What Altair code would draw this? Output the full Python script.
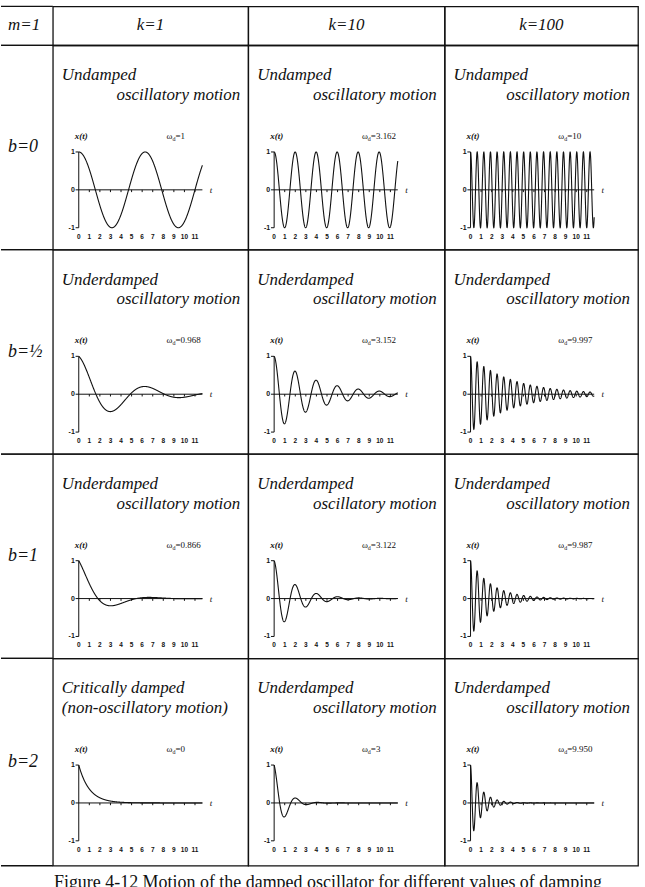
import altair as alt
import pandas as pd

# ---------------- data ----------------
MASS = 1
STIFFNESS = [1, 10, 100]
DAMPING = [0, 0.5, 1, 2]
DAMPING_TEXT = ["0", "½", "1", "2"]
OMEGA_D = [
    [1, 3.162, 10],
    [0.968, 3.152, 9.997],
    [0.866, 3.122, 9.987],
    [0, 3, 9.950],
]
OMEGA_TEXT = [
    ["1", "3.162", "10"],
    ["0.968", "3.152", "9.997"],
    ["0.866", "3.122", "9.987"],
    ["0", "3", "9.950"],
]
REGIME_TOP = [
    ["Undamped", "Undamped", "Undamped"],
    ["Underdamped", "Underdamped", "Underdamped"],
    ["Underdamped", "Underdamped", "Underdamped"],
    ["Critically damped", "Underdamped", "Underdamped"],
]
REGIME_BOTTOM = [
    ["oscillatory motion", "oscillatory motion", "oscillatory motion"],
    ["oscillatory motion", "oscillatory motion", "oscillatory motion"],
    ["oscillatory motion", "oscillatory motion", "oscillatory motion"],
    ["(non-oscillatory motion)", "oscillatory motion", "oscillatory motion"],
]
T_TICKS = list(range(12))
X_TICKS = [1, 0, -1]
T_END = 11.7
CAPTION = "Figure 4-12 Motion of the damped oscillator for different values of damping"

# ---------------- layout / style ----------------
COL_W = [52, 196, 197, 194]
HEAD_H = 39
ROW_H = [205, 205, 205, 208]
ORIGIN_X, PX_PER_T = 26, 10.6
ORIGIN_Y, PX_PER_X = 145, 38
INK = "#111111"
SERIF = "Liberation Serif"
SANS = "Liberation Sans"
ONE = alt.Data(values=[{}])


def label(text, x, y, size=17, align="left", baseline="alphabetic",
          style="italic", weight="normal", font=SERIF):
    return alt.Chart(ONE).mark_text(
        font=font, fontSize=size, fontStyle=style, fontWeight=weight,
        align=align, baseline=baseline, color=INK,
    ).encode(x=alt.value(x), y=alt.value(y), text=alt.value(text))


def plot_cell(r, c):
    w, h = COL_W[c + 1], ROW_H[r]
    b, wd = DAMPING[r], OMEGA_D[r][c]
    xs = alt.Scale(domain=[-ORIGIN_X / PX_PER_T, (w - ORIGIN_X) / PX_PER_T],
                   nice=False, zero=False)
    ys = alt.Scale(domain=[-(h - ORIGIN_Y) / PX_PER_X, ORIGIN_Y / PX_PER_X],
                   nice=False, zero=False)

    # displacement x(t) = exp(-b t / 2m) cos(wd t)
    curve = alt.Chart(alt.sequence(0, T_END + 0.004, 0.01, as_="t")).transform_calculate(
        x=f"exp(-{b} * datum.t / (2 * {MASS})) * cos({wd} * datum.t)"
    ).mark_line(color=INK, strokeWidth=1.1).encode(
        x=alt.X("t:Q", scale=xs, axis=None),
        y=alt.Y("x:Q", scale=ys, axis=None),
        order="t:Q",
    )

    segs = [
        {"t": -0.3, "t2": T_END, "x": 0, "x2": 0},
        {"t": 0, "t2": 0, "x": min(X_TICKS), "x2": max(X_TICKS)},
    ]
    segs += [{"t": t, "t2": t, "x": 0, "x2": -0.06} for t in T_TICKS[1:]]
    segs += [{"t": -0.3, "t2": 0, "x": v, "x2": v} for v in X_TICKS if v != 0]
    axes = alt.Chart(pd.DataFrame(segs)).mark_rule(color=INK, strokeWidth=1).encode(
        x=alt.X("t:Q", scale=xs, axis=None), x2="t2:Q",
        y=alt.Y("x:Q", scale=ys, axis=None), y2="x2:Q",
    )

    t_labels = alt.Chart(pd.DataFrame({"t": T_TICKS, "s": [str(v) for v in T_TICKS]})).mark_text(
        font=SANS, fontSize=6.5, fontWeight="bold", color=INK, baseline="middle"
    ).encode(x=alt.X("t:Q", scale=xs, axis=None), y=alt.value(ORIGIN_Y + 47), text="s:N")

    x_labels = alt.Chart(pd.DataFrame({"x": X_TICKS, "s": [str(v) for v in X_TICKS]})).mark_text(
        font=SANS, fontSize=7, fontWeight="bold", color=INK, baseline="middle", align="right"
    ).encode(x=alt.value(ORIGIN_X - 4), y=alt.Y("x:Q", scale=ys, axis=None), text="s:N")

    wx = 114
    left_second = (r == 3 and c == 0)
    texts = [
        label(REGIME_TOP[r][c], 9, 35),
        label(REGIME_BOTTOM[r][c], 9 if left_second else w - 8, 55,
              align="left" if left_second else "right"),
        label("x(t)", 22, 94, size=9, weight="bold"),
        label("ω", wx, 94, size=9, style="normal"),
        label("d", wx + 6, 96, size=6, style="normal"),
        label("=" + OMEGA_TEXT[r][c], wx + 9, 94, size=9, style="normal"),
        label("t", ORIGIN_X + 12.4 * PX_PER_T, ORIGIN_Y, size=9, baseline="middle"),
    ]
    return alt.layer(curve, axes, t_labels, x_labels, *texts).properties(width=w, height=h)


def side_cell(text, h, size=17, base=None, extra=()):
    w = COL_W[0]
    lines = alt.Chart(alt.Data(values=[{"y": 0}, {"y": h}])).mark_rule(
        color=INK, strokeWidth=1.3
    ).encode(x=alt.value(0), x2=alt.value(w),
             y=alt.Y("y:Q", scale=alt.Scale(domain=[h, 0], nice=False), axis=None))
    txt = label(text, 7, base if base is not None else h / 2 + 5, size=size)
    return alt.layer(lines, txt, *extra).properties(
        width=w, height=h, view=alt.ViewBackground(strokeOpacity=0)
    )


def head_cell(c):
    w = COL_W[c + 1]
    return label(f"k={STIFFNESS[c]}", w / 2, 24, align="center").properties(width=w, height=HEAD_H)


cells = [side_cell(f"m={MASS}", HEAD_H, base=24)] + [head_cell(c) for c in range(3)]
for r in range(4):
    # the figure caption runs below the table, hung from the last row
    extra = (label(CAPTION, 328, ROW_H[r] + 22, size=18, style="normal", align="center"),) if r == 3 else ()
    cells.append(side_cell(f"b={DAMPING_TEXT[r]}", ROW_H[r], size=18, extra=extra))
    cells += [plot_cell(r, c) for c in range(3)]

chart = alt.concat(*cells, columns=4, spacing=0, bounds="flush", align="each").properties(
    padding={"left": 0, "top": 4, "right": 6, "bottom": 30},
    background="white",
).configure_view(stroke=INK, strokeWidth=1.3)

chart.save("out.html", embed_options={"renderer": "svg", "actions": False})
